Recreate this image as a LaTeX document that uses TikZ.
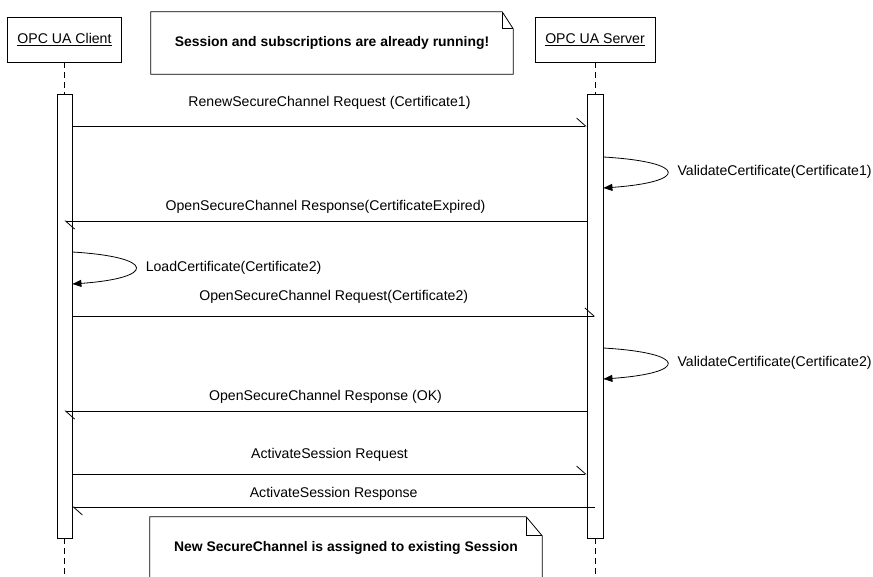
\documentclass[tikz,border=0pt]{standalone}
\usepackage{fontspec}
\setmainfont{Liberation Sans}
\usetikzlibrary{arrows.meta}
\newcommand{\diafont}{\fontsize{14.1pt}{16pt}\selectfont}
\tikzset{
  participant/.style={draw, fill=white, line width=0.8pt, inner sep=0pt,
                      minimum height=45pt, font=\diafont},
  activation/.style={draw, fill=white, line width=0.8pt, inner sep=0pt,
                     minimum height=444pt},
  lifeline/.style={line width=0.8pt, dash pattern=on 6pt off 4pt},
  msg/.style={-{Straight Barb[left, length=9pt, width=16pt]}, line width=0.8pt},
  selfmsg/.style={-{Triangle[length=9pt, width=7pt]}, line width=0.8pt},
  msglabel/.style={font=\diafont, inner sep=0pt},
  notetext/.style={font=\fontsize{13.9pt}{16pt}\selectfont\bfseries, inner sep=0pt},
  notebox/.style={line width=0.8pt},
}

\begin{document}
\begin{tikzpicture}[x=1pt, y=-1pt]
  \useasboundingbox (0,0) rectangle (873,576);
  \clip (0,0) rectangle (873,576);

  % Teilnehmer
  \node[participant, minimum width=114pt] (client) at (64.5,39.5) {\underline{OPC UA Client}};
  \node[participant, minimum width=120pt] (server) at (595,39.5) {\underline{OPC UA Server}};

  % Lebenslinien und Aktivierungsbalken
  \coordinate (clientend) at (64.5,576);
  \coordinate (serverend) at (595,576);
  \draw[lifeline] (client) -- (64.5,94);
  \draw[lifeline] (server) -- (595,94);
  \draw[lifeline] (64.5,538) -- (clientend);
  \draw[lifeline] (595,538) -- (serverend);
  \node[activation, minimum width=15pt] (clientbar) at (64.5,316) {};
  \node[activation, minimum width=16pt] (serverbar) at (595,316) {};

  % Hoehen der Nachrichten
  \coordinate (m1) at (0,126);
  \coordinate (s1a) at (0,157);
  \coordinate (s1b) at (0,188);
  \coordinate (m2) at (0,221);
  \coordinate (s2a) at (0,252);
  \coordinate (s2b) at (0,284);
  \coordinate (m3) at (0,316);
  \coordinate (s3a) at (0,348);
  \coordinate (s3b) at (0,379);
  \coordinate (m4) at (0,411);
  \coordinate (m5) at (0,474);
  \coordinate (m6) at (0,507);

  % Nachrichten
  \draw[msg] (clientbar.east |- m1) -- (serverbar.west |- m1)
    node[msglabel, midway, yshift=23pt] (l1) {RenewSecureChannel Request (Certificate1)};
  \draw[selfmsg] (serverbar.east |- s1a) .. controls +(85,5) and +(85,-6) .. (serverbar.east |- s1b)
    node[msglabel, pos=0.5, right=10pt] (l2) {ValidateCertificate(Certificate1)};
  \draw[msg] (serverbar.west |- m2) -- (clientbar.center |- m2)
    node[msglabel, midway, yshift=14pt] (l3) {OpenSecureChannel Response(CertificateExpired)};
  \draw[selfmsg] (clientbar.east |- s2a) .. controls +(84,5) and +(84,-6) .. (clientbar.east |- s2b)
    node[msglabel, pos=0.5, right=10pt] (l4) {LoadCertificate(Certificate2)};
  \draw[msg] (clientbar.east |- m3) -- (serverbar.center |- m3)
    node[msglabel, midway, yshift=19pt] (l5) {OpenSecureChannel Request(Certificate2)};
  \draw[selfmsg] (serverbar.east |- s3a) .. controls +(85,5) and +(85,-6) .. (serverbar.east |- s3b)
    node[msglabel, pos=0.5, right=10pt] (l6) {ValidateCertificate(Certificate2)};
  \draw[msg] (serverbar.west |- m4) -- (clientbar.center |- m4)
    node[msglabel, midway, yshift=14pt] (l7) {OpenSecureChannel Response (OK)};
  \draw[msg] (clientbar.east |- m5) -- (serverbar.west |- m5)
    node[msglabel, midway, yshift=19pt] (l8) {ActivateSession Request};
  \draw[msg] (serverbar.center |- m6) -- (clientbar.east |- m6)
    node[msglabel, midway, yshift=13pt] (l9) {ActivateSession Response};

  % Notizen
  \node[notetext, minimum width=362pt, minimum height=62pt] (note1) at (332,43)
    {Session and subscriptions are already running!};
  \draw[notebox] (note1.south west) -- (note1.north west) -- ([xshift=-11pt]note1.north east)
    -- ([yshift=-17pt]note1.north east) -- (note1.south east) -- cycle;
  \draw[notebox] ([xshift=-11pt]note1.north east) -- ([xshift=-11pt, yshift=-17pt]note1.north east)
    -- ([yshift=-17pt]note1.north east);

  \node[notetext, minimum width=392pt, minimum height=62pt] (note2) at (346,548)
    {New SecureChannel is assigned to existing Session};
  \draw[notebox] (note2.south west) -- (note2.north west) -- ([xshift=-16pt]note2.north east)
    -- ([yshift=-19pt]note2.north east) -- (note2.south east) -- cycle;
  \draw[notebox] ([xshift=-16pt]note2.north east) -- ([xshift=-16pt, yshift=-19pt]note2.north east)
    -- ([yshift=-19pt]note2.north east);
\end{tikzpicture}
\end{document}
